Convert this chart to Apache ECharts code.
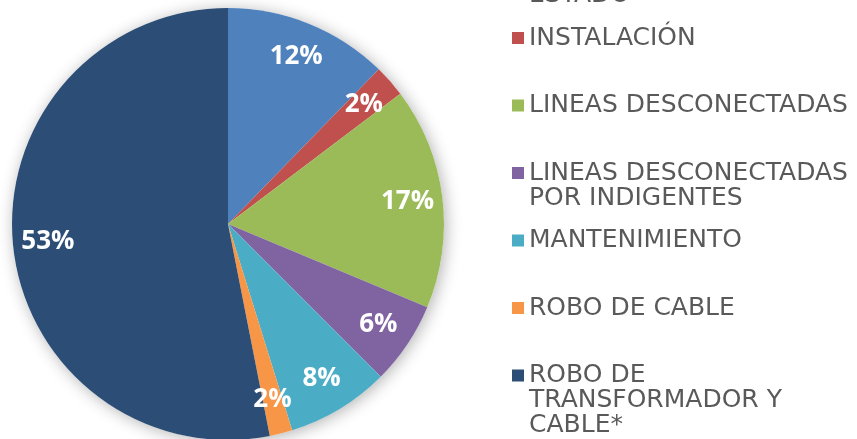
<!DOCTYPE html>
<html>
<head>
<meta charset="utf-8">
<script src="https://cdn.jsdelivr.net/npm/echarts@6/dist/echarts.min.js"></script>
<style>html,body{margin:0;padding:0;background:#fff;}#chart{width:857px;height:439px;}</style>
</head>
<body>
<div id="chart"></div>
<script>
// Data
const categories = [
  'DAÑOS POR EL\nESTADO',
  'INSTALACIÓN',
  'LINEAS DESCONECTADAS',
  'LINEAS DESCONECTADAS\nPOR INDIGENTES',
  'MANTENIMIENTO',
  'ROBO DE CABLE',
  'ROBO DE\nTRANSFORMADOR Y\nCABLE*'
];
const values = [12.3, 2.4, 16.6, 6.2, 7.7, 1.7, 53.1];
const colors = ['#4F81BD', '#C0504D', '#9BBB59', '#8064A2', '#4BACC6', '#F79646', '#2C4D75'];

const cx = 228, cy = 224, R = 216;
const lineH = 25, firstIcon = -29.5, step = 67.5, iconSize = 12;

const pieData = categories.map((c, i) => ({ name: c, value: values[i], itemStyle: { color: colors[i] } }));
const labelData = categories.map((c, i) => ({ name: c, value: values[i] }));

const legends = categories.map((c, i) => {
  const n = c.split('\n').length;
  const H = (2 * n - 1) * lineH;
  return {
    data: [c],
    orient: 'vertical',
    left: 512,
    top: firstIcon + step * i - H / 2,
    padding: 0,
    itemWidth: iconSize,
    itemHeight: iconSize,
    itemGap: 6,
    icon: 'rect',
    selectedMode: false,
    // prepend blank lines so the icon lines up with the first text line
    formatter: function (name) { return '\n'.repeat(n - 1) + name; },
    textStyle: {
      fontFamily: 'DejaVu Sans',
      fontSize: 25,
      color: '#595959',
      lineHeight: lineH
    }
  };
});

const chart = echarts.init(document.getElementById('chart'), null, { renderer: 'canvas' });
chart.setOption({
  animation: false,
  backgroundColor: '#fff',
  legend: legends,
  series: [
    {
      type: 'pie',
      silent: true,
      center: [cx, cy],
      radius: [0, R],
      data: [{ name: '_bg', value: 1 }],
      itemStyle: { color: '#fff', shadowBlur: 16, shadowColor: 'rgba(0,0,0,0.3)', shadowOffsetX: 2, shadowOffsetY: 2 },
      label: { show: false },
      labelLine: { show: false }
    },
    {
      type: 'pie',
      silent: true,
      center: [cx, cy],
      radius: [0, R],
      startAngle: 90,
      clockwise: true,
      data: pieData,
      label: { show: false },
      labelLine: { show: false }
    },
    {
      type: 'pie',
      silent: true,
      center: [cx, cy],
      radius: [R - 76, R],
      startAngle: 90,
      clockwise: true,
      data: labelData,
      percentPrecision: 0,
      itemStyle: { color: 'rgba(0,0,0,0)' },
      label: {
        show: true,
        position: 'inside',
        formatter: '{d}%',
        color: '#fff',
        fontFamily: 'Open Sans',
        fontWeight: 'bold',
        fontSize: 26
      },
      labelLine: { show: false }
    }
  ]
});
</script>
</body>
</html>
